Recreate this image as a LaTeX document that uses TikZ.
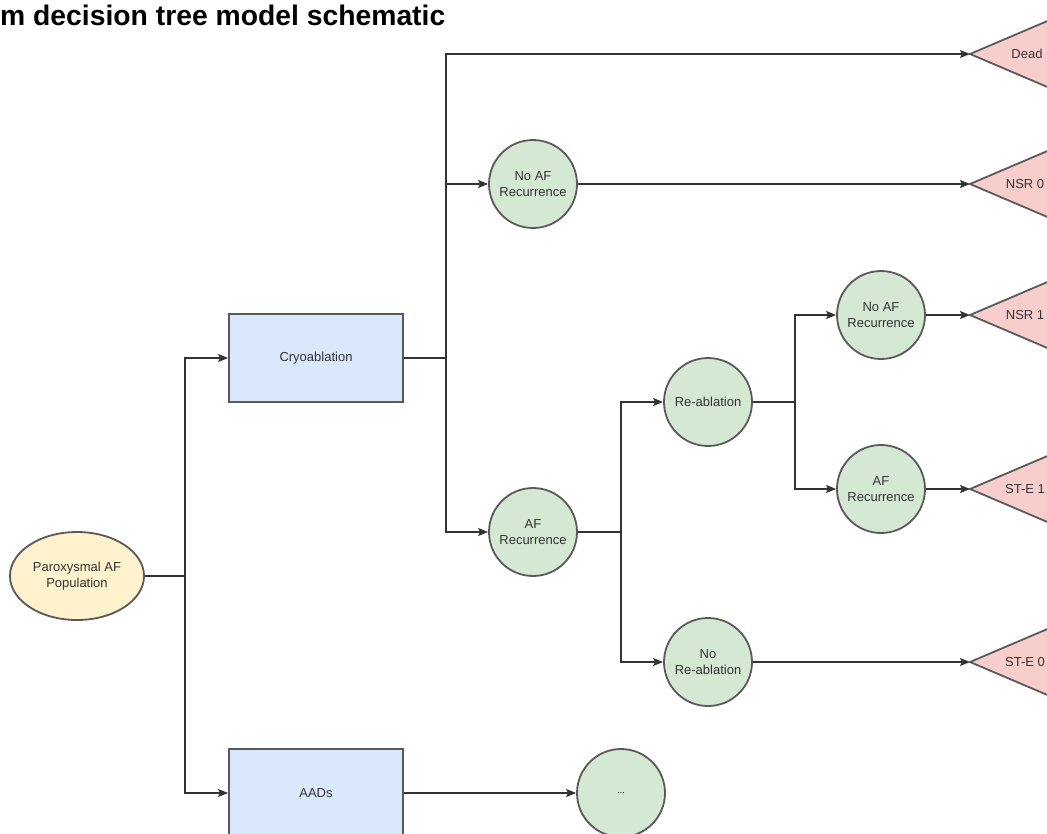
\documentclass[tikz,border=0pt]{standalone}
\usepackage{fontspec}
\setmainfont{Liberation Sans}
\usetikzlibrary{arrows.meta,shapes.geometric}
\definecolor{lineC}{HTML}{333333}
\definecolor{strokeC}{HTML}{5A5A5A}
\definecolor{textC}{HTML}{333333}
\definecolor{yellowF}{HTML}{FFF2CC}
\definecolor{blueF}{HTML}{DAE8FC}
\definecolor{greenF}{HTML}{D5E8D4}
\definecolor{redF}{HTML}{F8CECC}
\tikzset{
  conn/.style={draw=lineC, line width=1.7pt},
  arr/.style={conn, -{Stealth[length=10pt,width=8pt,inset=2pt]}},
  circ/.style={circle, draw=strokeC, line width=1.8pt, fill=greenF, minimum size=88pt,
    inner sep=0pt, align=center, text=textC, font=\fontsize{13}{16}\selectfont},
  boxn/.style={rectangle, draw=strokeC, line width=1.8pt, fill=blueF, minimum width=174pt,
    minimum height=88pt, align=center, text=textC, font=\fontsize{13}{16}\selectfont},
  ell/.style={ellipse, draw=strokeC, line width=1.8pt, fill=yellowF},
  tri/.style={draw=strokeC, line width=1.8pt, fill=redF, line join=miter},
  trilabel/.style={text=textC, font=\fontsize{13}{16}\selectfont, inner sep=0pt},
}
\begin{document}
\begin{tikzpicture}[x=1pt,y=-1pt]
\useasboundingbox (0,0) rectangle (1047,833);
\clip (0,0) rectangle (1047,833);
\fill[white] (0,0) rectangle (1047,833);

% title
\node[anchor=base west, inner sep=0pt, font=\fontsize{28.3}{32}\selectfont\bfseries] (title) at (0,25) {m decision tree model schematic};

% nodes
\node[ell, minimum width=130pt, minimum height=88pt, align=center, text=textC,
  font=\fontsize{13}{16}\selectfont] (pop) at (77,576) {Paroxysmal AF\\Population};
\node[boxn] (cryo) at (316,358) {Cryoablation};
\node[boxn] (aads) at (316,793) {AADs};
\node[circ] (dots) at (621,793) {\fontsize{9}{10}\selectfont ...};

\node[circ] (noaf1) at (533,184) {No AF\\Recurrence};
\node[circ] (af1) at (533,532) {AF\\Recurrence};
\node[circ] (reab) at (708,402) {Re-ablation};
\node[circ] (noreab) at (708,662) {No\\Re-ablation};
\node[circ] (noaf2) at (881,315) {No AF\\Recurrence};
\node[circ] (af2) at (881,489) {AF\\Recurrence};

% triangle tips
\coordinate (deadtip) at (970,54);
\coordinate (nsr0tip) at (970,184);
\coordinate (nsr1tip) at (970,315);
\coordinate (ste1tip) at (970,489);
\coordinate (ste0tip) at (970,662);

\foreach \t in {deadtip,nsr0tip,nsr1tip,ste1tip,ste0tip}{
  \draw[tri] (\t) -- ++(122,-52) -- ++(0,104) -- cycle;
}
\node[trilabel] (dead) at ([xshift=57pt]deadtip) {Dead};
\node[trilabel] (nsr0) at ([xshift=55pt]nsr0tip) {NSR 0};
\node[trilabel] (nsr1) at ([xshift=55pt]nsr1tip) {NSR 1};
\node[trilabel] (ste1) at ([xshift=55pt]ste1tip) {ST-E 1};
\node[trilabel] (ste0) at ([xshift=55pt]ste0tip) {ST-E 0};

% junctions
\coordinate (j1) at (185,576);
\coordinate (j2) at (446,358);
\coordinate (j3) at (621,532);
\coordinate (j4) at (795,402);

% connectors
\draw[conn] (pop) -- (j1);
\draw[arr] (j1) |- (cryo);
\draw[arr] (j1) |- (aads);
\draw[arr] (aads) -- (dots);

\draw[conn] (cryo) -- (j2);
\draw[arr] (j2) |- (deadtip);
\draw[arr] (j2) |- (noaf1);
\draw[arr] (j2) |- (af1);
\draw[arr] (noaf1) -- (nsr0tip);

\draw[conn] (af1) -- (j3);
\draw[arr] (j3) |- (reab);
\draw[arr] (j3) |- (noreab);
\draw[arr] (noreab) -- (ste0tip);

\draw[conn] (reab) -- (j4);
\draw[arr] (j4) |- (noaf2);
\draw[arr] (j4) |- (af2);
\draw[arr] (noaf2) -- (nsr1tip);
\draw[arr] (af2) -- (ste1tip);
\end{tikzpicture}
\end{document}
